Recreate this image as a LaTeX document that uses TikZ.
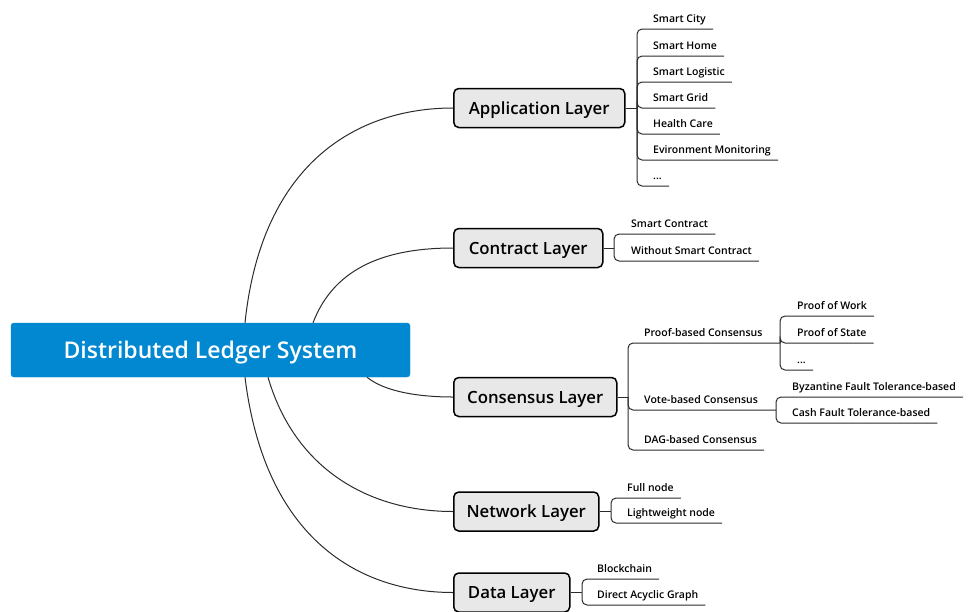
\documentclass[tikz,border=0pt]{standalone}
\usepackage{fontspec}
\setmainfont{Open Sans}
% medium-weight faces for the topics when available
\IfFontExistsTF{Open Sans SemiBold}
  {\newfontfamily\topicfont{Open Sans SemiBold}\newfontfamily\leaffont{Open Sans SemiBold}}
  {\IfFontExistsTF{Open Sans Semibold}
    {\newfontfamily\topicfont{Open Sans Semibold}\newfontfamily\leaffont{Open Sans Semibold}}
    {\newfontfamily\topicfont{Open Sans Bold}\newfontfamily\leaffont{Open Sans}}}
\usetikzlibrary{backgrounds}
\definecolor{rootblue}{HTML}{0288D1}
\definecolor{layergray}{HTML}{E8E8E8}
\definecolor{linegray}{HTML}{2B2B2B}
\tikzset{
  rootbox/.style={draw=rootblue, fill=rootblue, rounded corners=3pt, text=white,
    minimum width=399pt, minimum height=54pt, text depth=0pt,
    font=\topicfont\fontsize{23}{26}\selectfont, inner sep=0pt},
  layerbox/.style={draw=black, line width=1.5pt, fill=layergray, rounded corners=5pt,
    anchor=west, minimum height=39pt, inner xsep=0pt, text depth=0pt,
    font=\topicfont\fontsize{16.8}{20}\selectfont},
  leaf/.style={anchor=south west, inner xsep=0pt, inner ysep=6pt, text depth=0pt,
    font=\leaffont\fontsize{10.5}{13}\selectfont},
  conn/.style={draw=linegray, line width=1pt},
  twig/.style={draw=linegray, line width=1pt, rounded corners=5pt},
}
\begin{document}
\begin{tikzpicture}[x=1pt, y=-1pt]
\useasboundingbox (0,0) rectangle (968,611);
\clip (0,0) rectangle (968,611);

% central topic and main layers
\node[rootbox] (root) at (210.5,350) {Distributed Ledger System};
\node[layerbox, minimum width=171pt] (app)  at (453,108) {Application Layer};
\node[layerbox, minimum width=149pt] (con)  at (453,248) {Contract Layer};
\node[layerbox, minimum width=163pt] (cons) at (453,397) {Consensus Layer};
\node[layerbox, minimum width=145pt] (net)  at (453,511.5) {Network Layer};
\node[layerbox, minimum width=116pt] (data) at (453,592.5) {Data Layer};

% curved main branches, behind the central topic
\begin{scope}[on background layer]
\draw[conn] ([xshift=34.5pt]root.north) .. controls (262,160) and (360,108) .. (app.west);
\draw[conn] ([xshift=102.5pt]root.north) .. controls (335,265) and (390,248) .. (con.west);
\draw[conn] ([xshift=156.5pt]root.south) .. controls (385,392) and (420,397) .. (cons.west);
\draw[conn] ([xshift=57.5pt]root.south) .. controls (295,470) and (370,511.5) .. (net.west);
\draw[conn] ([xshift=34.5pt]root.south) .. controls (265,540) and (360,592.5) .. (data.west);
\end{scope}

% Application layer subtopics
\coordinate (appj) at (637,108);
\node[leaf] (city)    at (653,29)  {Smart City};
\node[leaf] (home)    at (653,56)  {Smart Home};
\node[leaf] (logi)    at (653,82)  {Smart Logistic};
\node[leaf] (grid)    at (653,108) {Smart Grid};
\node[leaf] (health)  at (653,134) {Health Care};
\node[leaf] (env)     at (653,160) {Evironment Monitoring};
\node[leaf] (appmore) at (653,186) {...};
\draw[conn] (app.east) -- (appj);
\foreach \n in {city,home,logi,grid,health,env,appmore}
  \draw[twig] (appj) |- ([xshift=7pt]\n.south east);

% Contract layer subtopics
\coordinate (conj) at (614,248);
\node[leaf] (sc)  at (631,234) {Smart Contract};
\node[leaf] (wsc) at (631,261) {Without Smart Contract};
\draw[conn] (con.east) -- (conj);
\foreach \n in {sc,wsc}
  \draw[twig] (conj) |- ([xshift=7pt]\n.south east);

% Consensus layer subtopics
\coordinate (consj) at (628,397);
\coordinate (pbj) at (780,343);
\coordinate (vbj) at (776,410);
\node[leaf] (pbc) at (644,343) {Proof-based Consensus};
\node[leaf] (vbc) at (644,410) {Vote-based Consensus};
\node[leaf] (dag) at (644,450) {DAG-based Consensus};
\draw[conn] (cons.east) -- (consj);
\draw[twig] (consj) |- (pbj);
\draw[twig] (consj) |- (vbj);
\draw[twig] (consj) |- ([xshift=7pt]dag.south east);

\node[leaf] (pow)   at (797,316) {Proof of Work};
\node[leaf] (pos)   at (797,343) {Proof of State};
\node[leaf] (pmore) at (797,370) {...};
\foreach \n in {pow,pos,pmore}
  \draw[twig] (pbj) |- ([xshift=7pt]\n.south east);

\node[leaf] (bft) at (792,397) {Byzantine Fault Tolerance-based};
\node[leaf] (cft) at (792,423) {Cash Fault Tolerance-based};
\foreach \n in {bft,cft}
  \draw[twig] (vbj) |- ([xshift=7pt]\n.south east);

% Network layer subtopics
\coordinate (netj) at (611,511.5);
\node[leaf] (full)  at (627,498) {Full node};
\node[leaf] (light) at (627,523) {Lightweight node};
\draw[conn] (net.east) -- (netj);
\foreach \n in {full,light}
  \draw[twig] (netj) |- ([xshift=7pt]\n.south east);

% Data layer subtopics
\coordinate (dataj) at (582,592.5);
\node[leaf] (block) at (597,579) {Blockchain};
\node[leaf] (dagr)  at (597,605) {Direct Acyclic Graph};
\draw[conn] (data.east) -- (dataj);
\foreach \n in {block,dagr}
  \draw[twig] (dataj) |- ([xshift=7pt]\n.south east);
\end{tikzpicture}
\end{document}
